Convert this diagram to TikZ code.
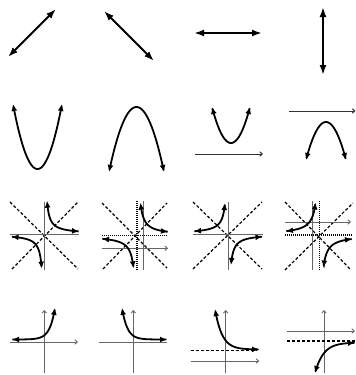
\documentclass[tikz,border=0pt]{standalone}
\usetikzlibrary{arrows.meta}
\begin{document}
\begin{tikzpicture}[x=1pt,y=-1pt,
  big/.style={line width=2pt, {Latex[length=10pt,width=7pt]}-{Latex[length=10pt,width=7pt]}},
  crv/.style={line width=1.8pt, {Latex[length=7pt,width=6pt]}-{Latex[length=7pt,width=6pt]}, samples=90, smooth},
  ax/.style={line width=0.9pt, black!60},
  axa/.style={ax, -{Straight Barb[length=2.5pt,width=4.5pt]}},
  thinl/.style={line width=1pt, black!80, -{Straight Barb[length=2.5pt,width=4.5pt]}},
  asy/.style={line width=1.2pt, dash pattern=on 3pt off 2pt},
  dotl/.style={line width=1.2pt, dash pattern=on 1pt off 1pt},
]
\useasboundingbox (0,0) rectangle (356,375);
% ---- Row 1: lines
\draw[big] (8,57) -- (56,9);
\draw[big] (104,11) -- (154,61);
\draw[big] (194,33) -- (262,33);
\draw[big] (323,7) -- (323,75);
% ---- Row 2: parabolas
\draw[crv] plot[domain=13:62] (\x,{169-65*((\x-37.5)/24.5)^2});
\draw[crv] plot[domain=109:164] (\x,{107+65*((\x-136.5)/27.5)^2});
\draw[crv] plot[domain=212:250] (\x,{143-36*((\x-231)/19)^2});
\draw[thinl] (195,154) -- (263,154);
\draw[crv] plot[domain=306:346] (\x,{122+38*((\x-326)/20)^2});
\draw[thinl] (289,111) -- (355.5,111);
% ---- Row 3: hyperbolas
% panel 1
\draw[asy] (10,202) -- (78,269);
\draw[asy] (12,269) -- (78,202);
\draw[ax] (44.3,202) -- (44.3,270);
\draw[ax] (10,234) -- (79,234);
\draw[crv] plot[domain=47:79] (\x,{234-90/(\x-44.3)});
\draw[crv] plot[domain=11.5:41.7] (\x,{234+90/(44.3-\x)});
% panel 2
\draw[asy] (102,203) -- (167,268);
\draw[asy] (103,269) -- (167,203);
\draw[dotl] (137,201) -- (137,270);
\draw[dotl] (102,235.5) -- (168,235.5);
\draw[ax] (143.3,201) -- (143.3,270);
\draw[axa] (102,248.3) -- (168,248.3);
\draw[crv] plot[domain=140.5:168] (\x,{235.5-115/(\x-137)});
\draw[crv] plot[domain=102:133.5] (\x,{235.5+115/(137-\x)});
% panel 3
\draw[asy] (193,202) -- (262,269);
\draw[asy] (193,269) -- (262,202);
\draw[ax] (228,202) -- (228,270);
\draw[ax] (193,234) -- (263,234);
\draw[crv] plot[domain=194:225] (\x,{234-93/(228-\x)});
\draw[crv] plot[domain=231:262.5] (\x,{234+93/(\x-228)});
% panel 4
\draw[asy] (285,202) -- (351,270);
\draw[asy] (285,270) -- (353,203);
\draw[dotl] (319.5,201) -- (319.5,270);
\draw[dotl] (285,235) -- (353,235);
\draw[ax] (312.7,201) -- (312.7,270);
\draw[axa] (285,222) -- (351,222);
\draw[crv] plot[domain=286:315.5] (\x,{235-130/(319.5-\x)});
\draw[crv] plot[domain=323.5:352] (\x,{235+130/(\x-319.5)});
% ---- Row 4: exponentials
% panel 1
\draw[axa] (44.3,373) -- (44.3,310);
\draw[axa] (10,342) -- (78,342);
\draw[crv] plot[domain=12:55] (\x,{339.5-4*exp(0.188*(\x-44))});
% panel 2
\draw[axa] (133.3,373) -- (133.3,310);
\draw[ax] (99,342) -- (167,342);
\draw[crv] plot[domain=122:167] (\x,{339.5-4*exp(-0.188*(\x-133))});
% panel 3
\draw[axa] (225.7,373) -- (225.7,310);
\draw[axa] (191,361) -- (259.3,361);
\draw[asy] (191,350.7) -- (257,350.7);
\draw[crv] plot[domain=215:259] (\x,{349.5-8.6*exp(-0.1407*(\x-226))});
% panel 4
\draw[axa] (324,373) -- (324,310);
\draw[axa] (287,331) -- (355,331);
\draw[asy] (287,341) -- (356,341);
\draw[crv] plot[domain=315:355] (\x,{342.5+10.65*exp(-0.117*(\x-324))});
\end{tikzpicture}
\end{document}
